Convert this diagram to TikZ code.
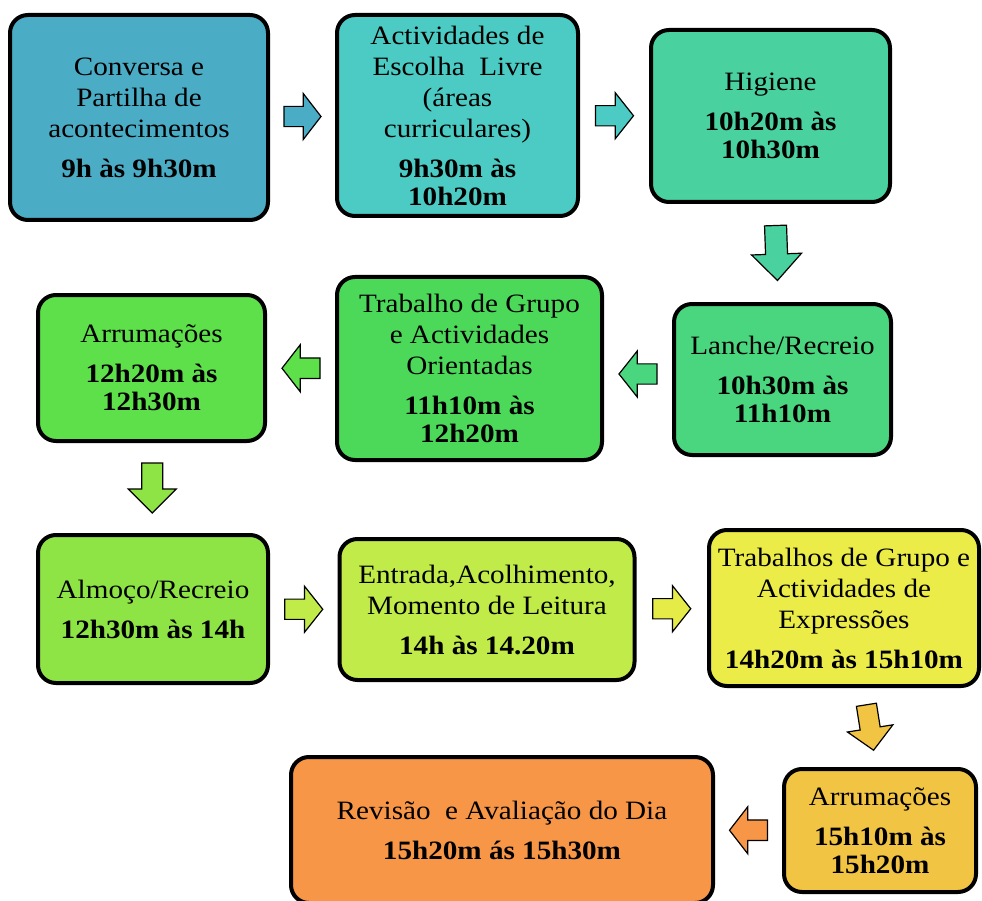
\documentclass[tikz,border=0pt]{standalone}
\usepackage{fontspec}
\setmainfont[FakeStretch=1.1]{Liberation Serif}
\usetikzlibrary{calc}

\definecolor{cA}{HTML}{4BACC6}
\definecolor{cB}{HTML}{4BCBC3}
\definecolor{cC}{HTML}{4AD1A0}
\definecolor{cD}{HTML}{4AD67E}
\definecolor{cE}{HTML}{4CD95A}
\definecolor{cF}{HTML}{5EE04A}
\definecolor{cG}{HTML}{8EE445}
\definecolor{cH}{HTML}{C0EB48}
\definecolor{cI}{HTML}{ECEC48}
\definecolor{cJ}{HTML}{F2C444}
\definecolor{cK}{HTML}{F79646}

\begin{document}
\begin{tikzpicture}[x=1pt,y=-1pt,
    box/.style={draw=black, line width=4pt, rounded corners=18pt, align=center,
      inner sep=0pt, font=\fontsize{26.5}{31}\selectfont},
    arrowline/.style={draw=black, line width=1.2pt, line join=miter},
    pics/barrow/.style 2 args={code={
      \draw[arrowline, pic actions] (-#1/2,-0.22*#2) -- (0.02*#1,-0.22*#2) -- (0.02*#1,-#2/2)
        -- (#1/2,0) -- (0.02*#1,#2/2) -- (0.02*#1,0.22*#2) -- (-#1/2,0.22*#2) -- cycle;}}]
  \useasboundingbox (0,0) rectangle (982,901);

  \node[box, fill=cA, minimum width=258pt, minimum height=205pt] (conversa) at (139,117.5)
    {Conversa e\\Partilha de\\acontecimentos\\[9pt]\textbf{9h às 9h30m}};
  \node[box, fill=cB, minimum width=241pt, minimum height=201pt] (escolha) at (457.5,115.5)
    {Actividades de\\Escolha~ Livre\\(áreas\\curriculares)\\[9pt]\textbf{9h30m às}\\[-3pt]\textbf{10h20m}};
  \node[box, fill=cC, minimum width=239pt, minimum height=172pt] (higiene) at (770.5,116)
    {Higiene\\[9pt]\textbf{10h20m às}\\[-3pt]\textbf{10h30m}};
  \node[box, fill=cD, minimum width=217pt, minimum height=151pt] (lanche) at (782.5,379.5)
    {Lanche/Recreio\\[9pt]\textbf{10h30m às}\\[-3pt]\textbf{11h10m}};
  \node[box, fill=cE, minimum width=265pt, minimum height=183pt] (orientadas) at (469.5,368.5)
    {Trabalho de Grupo\\e Actividades\\Orientadas\\[9pt]\textbf{11h10m às}\\[-3pt]\textbf{12h20m}};
  \node[box, fill=cF, minimum width=227pt, minimum height=146pt] (arrumA) at (151.5,368)
    {Arrumações\\[9pt]\textbf{12h20m às}\\[-3pt]\textbf{12h30m}};
  \node[box, fill=cG, minimum width=230pt, minimum height=148pt] (almoco) at (153,609)
    {Almoço/Recreio\\[9pt]\textbf{12h30m às 14h}};
  \node[box, fill=cH, minimum width=295pt, minimum height=141pt] (entrada) at (487,609.5)
    {Entrada,Acolhimento,\\Momento de Leitura\\[9pt]\textbf{14h às 14.20m}};
  \node[box, fill=cI, minimum width=270pt, minimum height=156pt] (expressoes) at (844,608)
    {Trabalhos de Grupo e\\Actividades de\\Expressões\\[9pt]\textbf{14h20m às 15h10m}};
  \node[box, fill=cJ, minimum width=192pt, minimum height=123pt] (arrumB) at (880,830.5)
    {Arrumações\\[9pt]\textbf{15h10m às}\\[-3pt]\textbf{15h20m}};
  \node[box, fill=cK, minimum width=422pt, minimum height=146pt] (revisao) at (502,830)
    {Revisão~ e Avaliação do Dia\\[9pt]\textbf{15h20m ás 15h30m}};

  \pic[fill=cA] at ($(conversa.east)!.5!(escolha.west)$) {barrow={37}{46}};
  \pic[fill=cB] at ($(escolha.east)!.5!(higiene.west)$) {barrow={38}{46}};
  \pic[fill=cC, rotate=-88] at ($(higiene.south)!.5!(lanche.north)$) {barrow={55}{50}};
  \pic[fill=cD, rotate=180] at ($(lanche.west)!.5!(orientadas.east)$) {barrow={38}{46}};
  \pic[fill=cF, rotate=180] at ($(orientadas.west)!.5!(arrumA.east)$) {barrow={38}{47}};
  \pic[fill=cG, rotate=-90] at ($(arrumA.south)!.5!(almoco.north)$) {barrow={50}{48}};
  \pic[fill=cH] at ($(almoco.east)!.5!(entrada.west)$) {barrow={38}{46}};
  \pic[fill=cI!85!cH] at ($(entrada.east)!.5!(expressoes.west)$) {barrow={38}{46}};
  \pic[fill=cJ, rotate=-81] at ($(expressoes.south)!.5!(arrumB.north)+(8,0)$) {barrow={46}{46}};
  \pic[fill=cK, rotate=180] at ($(arrumB.west)!.5!(revisao.east)$) {barrow={38}{47}};
\end{tikzpicture}
\end{document}
